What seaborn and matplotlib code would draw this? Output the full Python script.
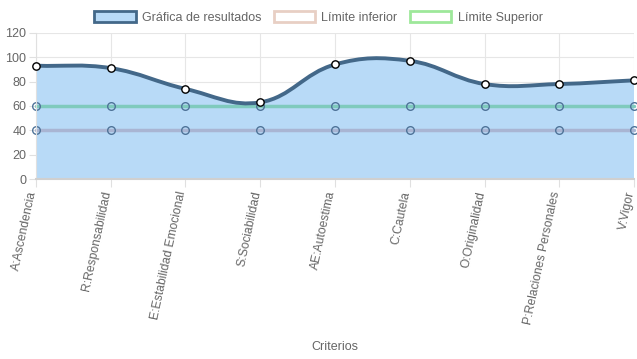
import numpy as np
import pandas as pd
import seaborn as sns
import matplotlib.pyplot as plt
from matplotlib.path import Path
from matplotlib.patches import PathPatch, Patch

criterios = ['A:Ascendencia', 'R:Responsabilidad', 'E:Estabilidad Emocional',
             'S:Sociabilidad', 'AE:Autoestima', 'C:Cautela', 'O:Originalidad',
             'P:Relaciones Personales', 'V:Vigor']
resultados = [93, 91, 74, 63, 94, 97, 78, 78, 81]
limite_inferior = [40, 40, 40, 40, 40, 40, 40, 40, 40]
limite_superior = [60, 60, 60, 60, 60, 60, 60, 60, 60]
y_ticks = [0, 20, 40, 60, 80, 100, 120]

sns.set_style('white')
plt.rcParams['font.family'] = ['Liberation Sans', 'DejaVu Sans']

fig = plt.figure(figsize=(6.37, 3.59), dpi=100)
ax = fig.add_axes([0.0565, 0.5006, 0.9388, 0.4083])

x = np.arange(len(criterios))
df = pd.DataFrame({'x': x, 'res': resultados, 'inf': limite_inferior, 'sup': limite_superior})

ax.set_xlim(0, len(criterios) - 1)
ax.set_ylim(0, 120)

# curva suavizada estilo Chart.js (tension 0.4), calculada en pixeles
pts = ax.transData.transform(np.column_stack([x, resultados]))
t = 0.4
cps = []
for i in range(len(pts)):
    prev = pts[i - 1] if i > 0 else pts[i]
    cur = pts[i]
    nxt = pts[i + 1] if i < len(pts) - 1 else pts[i]
    d01 = np.hypot(*(cur - prev))
    d12 = np.hypot(*(nxt - cur))
    s = d01 + d12
    fa = t * d01 / s if s else 0
    fb = t * d12 / s if s else 0
    cps.append((cur - fa * (nxt - prev), cur + fb * (nxt - prev)))

verts = [pts[0]]
codes = [Path.MOVETO]
for i in range(1, len(pts)):
    verts += [cps[i - 1][1], cps[i][0], pts[i]]
    codes += [Path.CURVE4] * 3
inv = ax.transData.inverted()
verts_d = inv.transform(np.array(verts))

fill_verts = np.vstack([[x[0], 0], verts_d, [x[-1], 0], [x[0], 0]])
fill_codes = [Path.MOVETO, Path.LINETO] + codes[1:] + [Path.LINETO, Path.CLOSEPOLY]
ax.add_patch(PathPatch(Path(fill_verts, fill_codes), facecolor='#b8daf7',
                       edgecolor='none', zorder=1))

for col, color in [('inf', '#a9b5d3'), ('sup', '#7fcabd')]:
    sns.lineplot(data=df, x='x', y=col, ax=ax, color=color, linewidth=2.5,
                 marker='o', markersize=5.5, markerfacecolor='none',
                 markeredgecolor='#4f7398', markeredgewidth=1, zorder=2,
                 clip_on=False)

ax.add_patch(PathPatch(Path(verts_d, codes), facecolor='none', edgecolor='#436889',
                       linewidth=2.8, zorder=3))
sns.scatterplot(data=df, x='x', y='res', ax=ax, s=28, color='white',
                edgecolor='black', linewidth=1, zorder=4, clip_on=False)

ax.set_xlim(0, len(criterios) - 1)
ax.set_ylim(0, 120)
ax.set_yticks(y_ticks)
ax.set_xticks(x)
ax.set_xticklabels(criterios, rotation=78, ha='right', va='baseline',
                   rotation_mode='anchor', fontsize=8.7, color='#666666')
ax.tick_params(axis='y', labelsize=9, labelcolor='#666666', length=5,
               color='#e0e0e0', left=True, pad=2)
ax.tick_params(axis='x', length=6, color='#e0e0e0', bottom=True, pad=3)
ax.grid(True, color='#e6e6e6', linewidth=0.8)
ax.set_axisbelow(True)
for side in ['top', 'right']:
    ax.spines[side].set_visible(False)
ax.spines['left'].set_color('#e0e0e0')
ax.spines['bottom'].set_color('#d0d0d0')
ax.spines['bottom'].set_linewidth(1.5)

ax.set_ylabel('')
ax.set_xlabel('Criterios', fontsize=9, color='#666666')
ax.xaxis.set_label_coords(0.5, -1.1)

handles = [
    Patch(facecolor='#b8daf7', edgecolor='#436889', linewidth=2),
    Patch(facecolor='white', edgecolor='#e8cfc4', linewidth=2),
    Patch(facecolor='white', edgecolor='#9ee89a', linewidth=2),
]
labels = ['Gráfica de resultados', 'Límite inferior', 'Límite Superior']
fig.legend(handles, labels, loc='upper center', bbox_to_anchor=(0.5, 1.0),
           ncol=3, frameon=False, fontsize=9, labelcolor='#666666',
           handlelength=3.3, handleheight=1.0, handletextpad=0.5,
           columnspacing=1.0)

fig.savefig('out.png', dpi=100)
